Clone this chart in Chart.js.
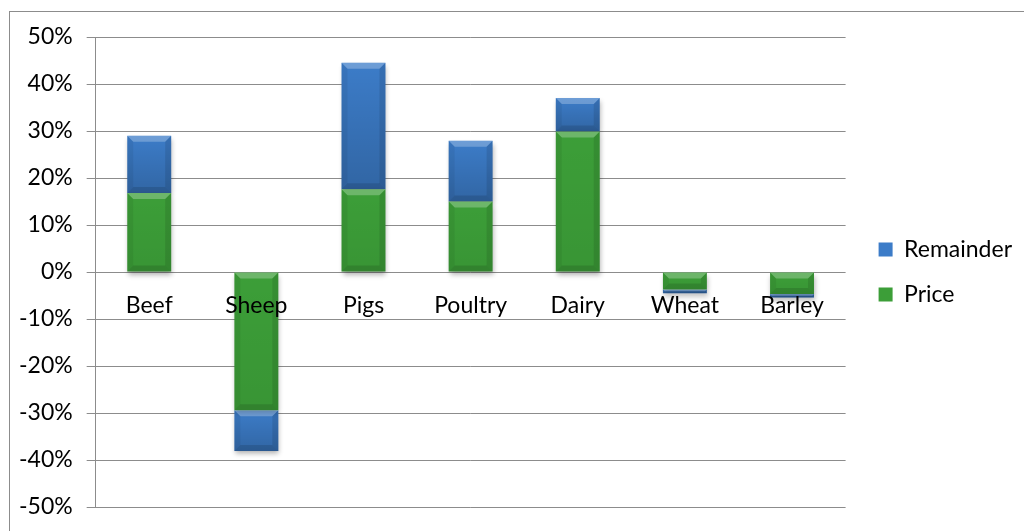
<!DOCTYPE html>
<html>
<head>
<meta charset="utf-8">
<script src="https://cdn.jsdelivr.net/npm/chart.js@4.4.0/dist/chart.umd.min.js"></script>
<style>
    html, body { margin: 0; padding: 0; background: #fff; overflow: hidden; }
    #wrap { position: relative; width: 1024px; height: 531px; }
    #frame { position: absolute; left: 9px; top: 11px; width: 1100px; height: 600px; border: 1px solid #8c8c8c; }
    canvas { position: absolute; left: 0; top: 0; }
</style>
</head>
<body>
<div id="wrap">
    <div id="frame"></div>
    <canvas id="chart" width="1024" height="531"></canvas>
</div>
<script>
// Change by sector, split into the price effect and the remainder (percent)
const categories = ['Beef', 'Sheep', 'Pigs', 'Poultry', 'Dairy', 'Wheat', 'Barley'];
const priceChange = [16.8, -29.4, 17.6, 15.0, 29.9, -3.7, -4.7];
const remainderChange = [12.2, -8.7, 26.9, 12.9, 7.1, -0.8, -0.7];

// Axis range
const yMin = -50;
const yMax = 50;
const yStep = 10;

const FONT = { family: 'Lato, "Open Sans", sans-serif', size: 23 };
const GRID = '#8c8c8c';
const LEGEND_GAP = 11; // extra space between plot and legend

// Bevel + drop shadow so the bars look like the old office 3D style
const bevelPlugin = {
    id: 'bevel',
    beforeDatasetsDraw(chart) {
        const c = chart.ctx;
        c.save();
        c.shadowColor = 'rgba(0, 0, 0, 0.3)';
        c.shadowBlur = 5;
        c.shadowOffsetX = 1;
        c.shadowOffsetY = 3;
    },
    afterDatasetsDraw(chart) {
        const c = chart.ctx;
        c.restore();
        const poly = (pts, color) => {
            c.beginPath();
            c.moveTo(pts[0][0], pts[0][1]);
            for (let k = 1; k < pts.length; k++) c.lineTo(pts[k][0], pts[k][1]);
            c.closePath();
            c.fillStyle = color;
            c.fill();
        };
        chart.data.datasets.forEach((ds, i) => {
            const meta = chart.getDatasetMeta(i);
            if (meta.hidden) return;
            meta.data.forEach(bar => {
                const p = bar.getProps(['x', 'y', 'base', 'width'], true);
                const l = p.x - p.width / 2, r = p.x + p.width / 2;
                const t = Math.min(p.y, p.base), b = Math.max(p.y, p.base);
                const s = Math.min(6, (b - t) / 2, p.width / 2);
                const g = c.createLinearGradient(0, t, 0, b);
                g.addColorStop(0, 'rgba(0,0,0,0)');
                g.addColorStop(1, ds.shade);
                c.fillStyle = g;
                c.fillRect(l, t, r - l, b - t);
                poly([[l, t], [r, t], [r - s, t + s], [l + s, t + s]], 'rgba(255,255,255,0.25)');
                poly([[l, b], [r, b], [r - s, b - s], [l + s, b - s]], 'rgba(0,0,0,0.12)');
                poly([[l, t], [l + s, t + s], [l + s, b - s], [l, b]], 'rgba(0,0,0,0.06)');
                poly([[r, t], [r - s, t + s], [r - s, b - s], [r, b]], 'rgba(0,0,0,0.10)');
            });
        });
    }
};

// Push the legend a little further from the plot area
const legendGapPlugin = {
    id: 'legendGap',
    afterLayout(chart) {
        if (!chart.legend) return;
        chart.legend.left += LEGEND_GAP;
        chart.legend.right += LEGEND_GAP;
    }
};

new Chart(document.getElementById('chart'), {
    type: 'bar',
    data: {
        labels: categories,
        datasets: [
            {
                label: 'Price',
                data: priceChange,
                backgroundColor: '#3c9e38',
                shade: 'rgba(0,0,0,0.06)'
            },
            {
                label: 'Remainder',
                data: remainderChange,
                backgroundColor: '#3c7cc8',
                shade: 'rgba(0,0,0,0.18)'
            }
        ]
    },
    options: {
        responsive: false,
        animation: false,
        layout: { padding: { left: 5, top: 37, right: 13, bottom: 24 } },
        datasets: {
            bar: { categoryPercentage: 1, barPercentage: 0.41, borderWidth: 0 }
        },
        plugins: {
            legend: {
                position: 'right',
                reverse: true,
                labels: {
                    font: FONT,
                    color: '#000',
                    boxWidth: 14,
                    boxHeight: 14,
                    padding: 22
                }
            },
            tooltip: { enabled: false }
        },
        scales: {
            x: {
                stacked: true,
                position: { y: 0 },
                grid: { display: false, drawTicks: false },
                border: { display: false },
                ticks: { font: FONT, color: '#000', padding: 20, maxRotation: 0, z: 1 }
            },
            y: {
                stacked: true,
                min: yMin,
                max: yMax,
                grid: { color: GRID, lineWidth: 1, tickLength: 9 },
                border: { display: true, color: GRID, width: 1 },
                ticks: {
                    stepSize: yStep,
                    font: FONT,
                    color: '#000',
                    padding: 14,
                    callback: v => v + '%'
                },
                afterFit: s => { s.paddingBottom = 14; }
            }
        }
    },
    plugins: [bevelPlugin, legendGapPlugin]
});
</script>
</body>
</html>
